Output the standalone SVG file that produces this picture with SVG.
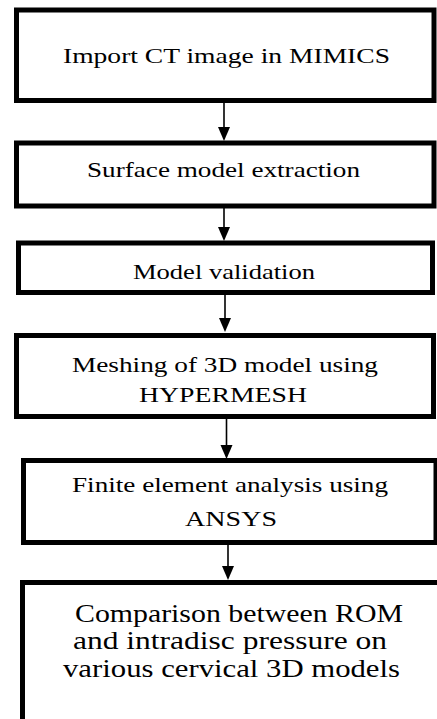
<svg xmlns="http://www.w3.org/2000/svg" width="437" height="719" viewBox="0 0 437 719">
<style>
.box{fill:#fff;stroke:#000;stroke-width:5}
.t{font-family:'Liberation Serif','DejaVu Serif',serif;font-size:21px;fill:#000;text-anchor:middle}
.tb{font-family:'Liberation Serif','DejaVu Serif',serif;font-size:26px;fill:#000;text-anchor:middle}
.ln{stroke:#000;stroke-width:1.6;fill:none}
.ah{fill:#000}
</style>
<rect width="437" height="719" fill="#fff"/>
<g id="connectors">
<line class="ln" x1="224" y1="103" x2="224" y2="130"/><polygon class="ah" points="218,127 230,127 224,141"/>
<line class="ln" x1="224" y1="208" x2="224" y2="230"/><polygon class="ah" points="218,227 230,227 224,241"/>
<line class="ln" x1="225" y1="295" x2="225" y2="321"/><polygon class="ah" points="219,318 231,318 225,332"/>
<line class="ln" x1="226.5" y1="419" x2="226.5" y2="448"/><polygon class="ah" points="220.5,445 232.5,445 226.5,459"/>
<line class="ln" x1="228" y1="545" x2="228" y2="569"/><polygon class="ah" points="222,566 234,566 228,580"/>
</g>
<g id="n1"><rect class="box" x="16.5" y="10" width="417.5" height="90.5"/>
<text class="t" x="226.5" y="63" textLength="327" lengthAdjust="spacingAndGlyphs">Import CT image in MIMICS</text></g>
<g id="n2"><rect class="box" x="16.5" y="143" width="417.5" height="63"/>
<text class="t" x="223.5" y="177" textLength="273" lengthAdjust="spacingAndGlyphs">Surface model extraction</text></g>
<g id="n3"><rect class="box" x="18.5" y="243" width="414" height="49.5"/>
<text class="t" x="224" y="278.5" textLength="182" lengthAdjust="spacingAndGlyphs">Model validation</text></g>
<g id="n4"><rect class="box" x="16.5" y="335.5" width="417" height="81"/>
<text class="t" x="225" y="372" textLength="306" lengthAdjust="spacingAndGlyphs">Meshing  of 3D model using</text>
<text class="t" x="223" y="402" textLength="168" lengthAdjust="spacingAndGlyphs">HYPERMESH</text></g>
<g id="n5"><rect class="box" x="23.5" y="460.5" width="412.5" height="82"/>
<text class="t" x="230" y="492" textLength="316" lengthAdjust="spacingAndGlyphs">Finite element analysis using</text>
<text class="t" x="231" y="526" textLength="92" lengthAdjust="spacingAndGlyphs">ANSYS</text></g>
<g id="n6"><rect class="box" x="22.5" y="582.5" width="425" height="200"/>
<text class="tb" x="239" y="622" textLength="328" lengthAdjust="spacingAndGlyphs">Comparison between ROM</text>
<text class="tb" x="230" y="649" textLength="314" lengthAdjust="spacingAndGlyphs">and intradisc pressure on</text>
<text class="tb" x="231.5" y="677" textLength="337" lengthAdjust="spacingAndGlyphs">various cervical 3D models</text></g>
</svg>
